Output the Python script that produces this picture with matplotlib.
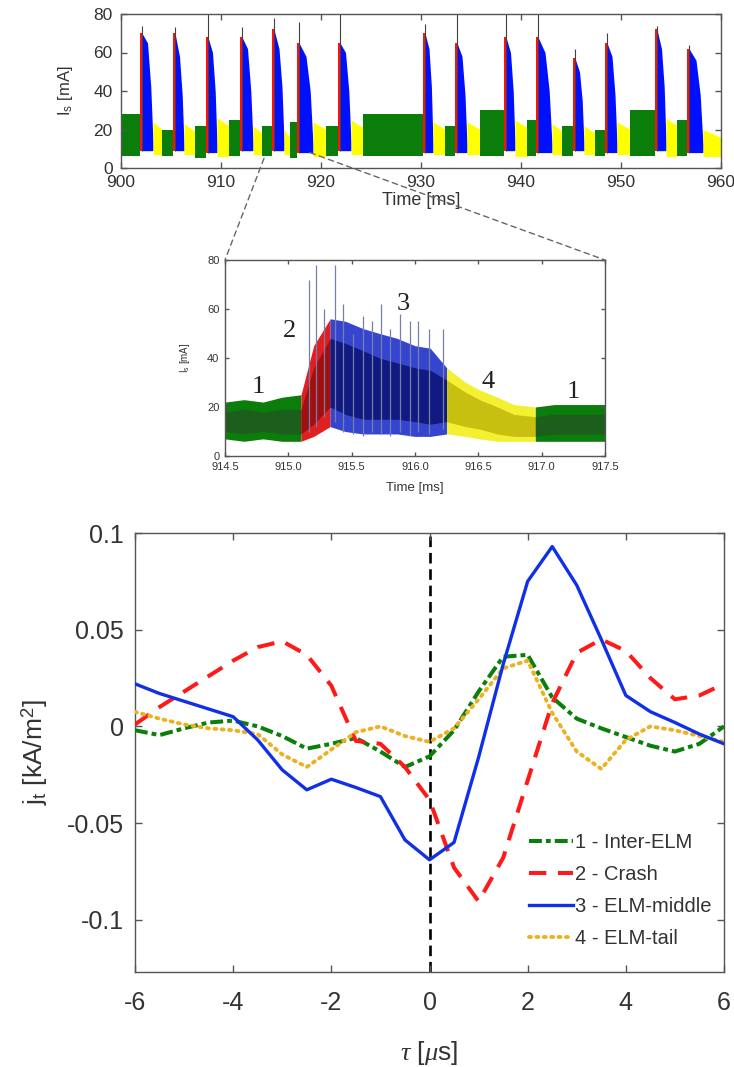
import numpy as np
import matplotlib
matplotlib.use("Agg")
import matplotlib.pyplot as plt
from matplotlib.patches import ConnectionPatch

plt.rcParams['font.family'] = ['Liberation Sans', 'DejaVu Sans']
plt.rcParams['mathtext.fontset'] = 'custom'
plt.rcParams['mathtext.rm'] = 'Liberation Sans'
plt.rcParams['mathtext.it'] = 'Liberation Serif:italic'

# ---------------- top panel data (ELM sequence, ms / mA) ----------------
elm_onset = [901.9, 905.2, 908.5, 911.9, 915.1, 917.6, 921.7, 930.2, 933.4, 938.3, 941.5, 945.2, 948.4, 953.4, 956.6]
crash_end = [902.1, 905.4, 908.7, 912.1, 915.3, 917.8, 921.9, 930.4, 933.6, 938.5, 941.7, 945.4, 948.6, 953.6, 956.8]
elm_peak = [70, 70, 68, 68, 72, 65, 65, 70, 65, 68, 68, 57, 65, 72, 62]
elm_spike = [74, 73, 80, 73, 78, 76, 80, 75, 80, 80, 80, 62, 70, 74, 64]
blue_top_half = [65, 58, 60, 62, 62, 58, 60, 62, 58, 60, 60, 50, 58, 62, 56]
blue_top_late = [42, 38, 40, 40, 42, 40, 40, 42, 38, 40, 40, 35, 38, 42, 38]
blue_end_top = [13, 12, 12, 13, 14, 12, 13, 12, 12, 13, 12, 12, 12, 13, 12]
blue_low = [9, 9, 8, 9, 9, 8, 9, 8, 8, 9, 8, 9, 8, 9, 8]
blue_end = [903.2, 906.3, 909.6, 913.2, 916.3, 919.2, 923.0, 931.2, 934.6, 939.4, 943.1, 946.3, 949.6, 954.5, 958.2]
yellow_end = [904.1, 907.4, 910.8, 914.1, 916.9, 920.5, 924.2, 932.4, 935.9, 940.6, 944.1, 947.4, 950.9, 955.6, 960.0]
yellow_top = [24, 23, 26, 22, 20, 24, 25, 24, 24, 25, 23, 22, 24, 26, 20]
yellow_low = [7, 7, 6, 7, 7, 6, 7, 7, 7, 6, 7, 7, 7, 6, 6]
green_top = [28, 20, 22, 25, 22, 24, 22, 28, 22, 30, 25, 22, 20, 30, 25]
green_low = [6, 6, 5, 6, 6, 5, 6, 6, 6, 6, 6, 6, 6, 6, 6]
blue_shape_frac = [0.0, 0.5, 0.8, 1.0]

# ---------------- middle panel data (one ELM, 914.5 - 917.5 ms) ----------------
mid_time = [914.50, 914.65, 914.80, 914.95, 915.10, 915.20, 915.33, 915.45, 915.59, 915.72,
            915.86, 916.00, 916.12, 916.25, 916.40, 916.51, 916.65, 916.78, 916.95, 917.10, 917.30, 917.50]
mid_hi = [18, 19, 18, 19, 19, 36, 48, 46, 43, 40, 38, 36, 35, 31, 26, 23, 20, 17, 16, 17, 17, 17]
mid_lo = [10, 9, 10, 9, 9, 13, 20, 17, 15, 15, 15, 14, 13, 14, 12, 11, 9, 8, 8, 9, 9, 9]
mid_hi_out = [22, 23, 22, 24, 25, 45, 56, 55, 52, 50, 48, 45, 44, 36, 30, 27, 24, 21, 20, 21, 21, 21]
mid_lo_out = [7, 6, 7, 6, 6, 8, 12, 10, 9, 9, 9, 8, 8, 9, 8, 7, 6, 6, 6, 6, 6, 6]
phase_bounds = [914.5, 915.10, 915.33, 916.25, 916.95, 917.5]
spike_t = [915.16, 915.22, 915.28, 915.37, 915.43, 915.51, 915.59, 915.66, 915.73, 915.80, 915.88, 915.96, 916.02, 916.11, 916.22]
spike_hi = [72, 78, 60, 78, 62, 50, 57, 55, 62, 52, 58, 55, 55, 52, 52]
spike_lo = [10, 12, 16, 14, 10, 9, 8, 10, 9, 8, 10, 8, 10, 9, 11]
phase_labels = ['1', '2', '3', '4', '1']
phase_label_t = [914.76, 915.01, 915.91, 916.58, 917.25]
phase_label_v = [28, 51, 62, 30, 26]

# ---------------- bottom panel data ----------------
tau = [-6, -5.5, -5, -4.5, -4, -3.5, -3, -2.5, -2, -1.5, -1, -0.5, 0,
       0.5, 1, 1.5, 2, 2.5, 3, 3.5, 4, 4.5, 5, 5.5, 6]
j_inter = [-0.002, -0.0045, -0.001, 0.002, 0.003, 0.000, -0.005, -0.0115, -0.009, -0.006, -0.013, -0.021, -0.0155,
           -0.002, 0.018, 0.036, 0.037, 0.015, 0.004, -0.001, -0.0055, -0.010, -0.013, -0.009, 0.000]
j_crash = [0.001, 0.010, 0.018, 0.026, 0.034, 0.041, 0.044, 0.037, 0.021, -0.0075, -0.009, -0.021, -0.038,
           -0.073, -0.0905, -0.068, -0.028, 0.012, 0.038, 0.045, 0.039, 0.025, 0.014, 0.016, 0.022]
j_middle = [0.022, 0.017, 0.013, 0.009, 0.005, -0.007, -0.0225, -0.0328, -0.0273, -0.0316, -0.0363, -0.0587, -0.069,
            -0.060, -0.016, 0.032, 0.075, 0.093, 0.073, 0.045, 0.016, 0.0076, 0.002, -0.004, -0.009]
j_tail = [0.0075, 0.004, 0.001, -0.001, -0.002, -0.004, -0.0145, -0.021, -0.012, -0.003, 0.000, -0.005, -0.008,
          -0.001, 0.014, 0.030, 0.034, 0.007, -0.013, -0.022, -0.007, 0.000, -0.002, -0.005, -0.008]
series_labels = ['1 - Inter-ELM', '2 - Crash', '3 - ELM-middle', '4 - ELM-tail']

C_GREEN, C_RED, C_BLUE, C_YELLOW = '#0a7d0a', '#ff1010', '#0010ff', '#ffff00'
SPINE = '#555555'
TXT = '#333333'

fig = plt.figure(figsize=(7.34, 10.67), dpi=100)
ax1 = fig.add_axes([121/734, 1-168/1067, 600/734, 154/1067])
ax2 = fig.add_axes([225/734, 1-456/1067, 380/734, 196/1067])
ax3 = fig.add_axes([135/734, 1-972/1067, 589/734, 439/1067])

def style(ax, size, length=4, xpad=4, ypad=4):
    for s in ax.spines.values():
        s.set_color(SPINE)
        s.set_linewidth(1.0)
    ax.tick_params(direction='in', top=True, right=True, length=length, width=1,
                   color=SPINE, labelsize=size, labelcolor=TXT)
    ax.tick_params(axis='x', pad=xpad)
    ax.tick_params(axis='y', pad=ypad)

# ---------------- top panel ----------------
green_start = [900.0] + yellow_end[:-1]
for i in range(len(elm_onset)):
    ax1.fill_between([green_start[i], elm_onset[i]], [green_low[i]] * 2, [green_top[i]] * 2,
                     color=C_GREEN, lw=0)
    ax1.fill_between([elm_onset[i], crash_end[i]], [blue_low[i]] * 2, [elm_peak[i]] * 2,
                     color=C_RED, lw=0)
    bt = [crash_end[i] + f * (blue_end[i] - crash_end[i]) for f in blue_shape_frac]
    ax1.fill_between(bt, [blue_low[i]] * 4,
                     [elm_peak[i], blue_top_half[i], blue_top_late[i], blue_end_top[i]],
                     color=C_BLUE, lw=0)
    ax1.fill_between([blue_end[i], yellow_end[i]], [yellow_low[i]] * 2, [yellow_top[i], yellow_top[i] - 4],
                     color=C_YELLOW, lw=0)
    ax1.vlines(crash_end[i], blue_low[i], elm_spike[i], color='#404040', lw=0.8)
ax1.set_xlim(900, 960)
ax1.set_ylim(0, 80)
ax1.set_xticks([900, 910, 920, 930, 940, 950, 960])
ax1.set_yticks([0, 20, 40, 60, 80])
style(ax1, 12.5, xpad=5, ypad=6)
ax1.set_ylabel('I$_\\mathregular{s}$ [mA]', fontsize=12, color=TXT)
ax1.yaxis.set_label_coords(-0.092, 0.5)
ax1.yaxis.label.set_va('center')
ax1.set_xlabel('Time [ms]', fontsize=13, color=TXT)
ax1.xaxis.set_label_coords(0.5, -0.21)
ax1.xaxis.label.set_va('center')

# ---------------- middle panel ----------------
mt = np.array(mid_time)
phase_cols = [(C_GREEN, '#1c5e1c'), ('#e02020', '#a01010'), ('#3545d0', '#101a80'),
              ('#f2f030', '#c8c010'), (C_GREEN, '#1c5e1c')]
for k in range(5):
    sel = (mt >= phase_bounds[k] - 1e-9) & (mt <= phase_bounds[k + 1] + 1e-9)
    outer, inner = phase_cols[k]
    ax2.fill_between(mt[sel], np.array(mid_lo_out)[sel], np.array(mid_hi_out)[sel], color=outer, lw=0)
    ax2.fill_between(mt[sel], np.array(mid_lo)[sel], np.array(mid_hi)[sel], color=inner, lw=0)
ax2.vlines(spike_t, spike_lo, spike_hi, color='#7580a8', lw=0.9)
for lab, t, v in zip(phase_labels, phase_label_t, phase_label_v):
    ax2.text(t, v, lab, fontsize=19, family='Liberation Serif', ha='center', va='center', color='#222222')
ax2.set_xlim(914.5, 917.5)
ax2.set_ylim(0, 80)
ax2.set_xticks([914.5, 915.0, 915.5, 916.0, 916.5, 917.0, 917.5])
ax2.set_xticklabels(['914.5', '915.0', '915.5', '916.0', '916.5', '917.0', '917.5'])
ax2.set_yticks([0, 20, 40, 60, 80])
style(ax2, 8, length=3)
ax2.set_ylabel('I$_\\mathregular{s}$ [mA]', fontsize=7, color=TXT)
ax2.yaxis.set_label_coords(-0.105, 0.5)
ax2.yaxis.label.set_va('center')
ax2.set_xlabel('Time [ms]', fontsize=9.5, color=TXT)
ax2.xaxis.set_label_coords(0.5, -0.163)
ax2.xaxis.label.set_va('center')

# connector lines from top panel to zoomed panel
for (xa, ya), (xb, yb) in [((914.3, 5.0), (914.5, 80)), ((918.9, 8.0), (917.5, 80))]:
    con = ConnectionPatch(xyA=(xa, ya), coordsA='data', axesA=ax1,
                          xyB=(xb, yb), coordsB='data', axesB=ax2,
                          color='#666666', lw=1.0, linestyle=(0, (4, 3)), zorder=5)
    fig.add_artist(con)

# ---------------- bottom panel ----------------
ax3.axvline(0, color='black', lw=1.9, dashes=(4, 2.2), zorder=1)
ax3.plot(tau, j_inter, color='#0a800a', lw=2.9, dashes=(3.2, 1.0, 1.2, 1.0), label=series_labels[0], zorder=3)
ax3.plot(tau, j_crash, color='#ff1a1a', lw=2.9, dashes=(4.3, 2.9), label=series_labels[1], zorder=3)
ax3.plot(tau, j_middle, color='#1030e8', lw=2.4, label=series_labels[2], zorder=4)
ax3.plot(tau, j_tail, color='#EDB120', lw=2.8, dashes=(0.5, 1.4), dash_capstyle='round',
         label=series_labels[3], zorder=3)
ax3.set_xlim(-6, 6)
ax3.set_ylim(-0.127, 0.1)
ax3.set_xticks([-6, -4, -2, 0, 2, 4, 6])
ax3.set_yticks([-0.1, -0.05, 0, 0.05, 0.1])
ax3.set_yticklabels(['-0.1', '-0.05', '0', '0.05', '0.1'])
ax3.set_xticklabels(['-6', '-4', '-2', '0', '2', '4', '6'])
style(ax3, 18, length=5, xpad=14, ypad=8)
ax3.set_ylabel('j$_\\mathregular{t}$ [kA/m$^\\mathregular{2}$]', fontsize=19, color=TXT)
ax3.yaxis.set_label_coords(-0.17, 0.5)
ax3.yaxis.label.set_va('center')
ax3.set_xlabel(r'$\tau$ [$\mu$s]', fontsize=19, color=TXT)
ax3.xaxis.set_label_coords(0.5, -0.185)
ax3.xaxis.label.set_va('center')
leg = ax3.legend(loc='upper left', bbox_to_anchor=(0.652, 0.34), frameon=False, fontsize=14.5,
                 handlelength=2.2, handletextpad=0.1, labelspacing=0.65, borderpad=0)
for t in leg.get_texts():
    t.set_color(TXT)

fig.savefig('out.png', dpi=100)
